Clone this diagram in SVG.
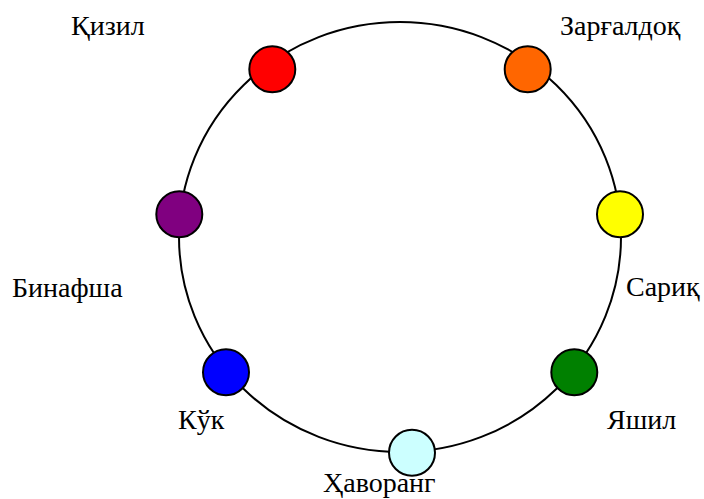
<svg xmlns="http://www.w3.org/2000/svg" width="704" height="499" viewBox="0 0 704 499">
<style>
.lbl{font-family:"Liberation Serif","Times New Roman",serif;font-size:28px;fill:#000}
.dot{stroke:#000;stroke-width:2}
.ring{fill:none;stroke:#000;stroke-width:2}
</style>
<rect width="704" height="499" fill="#fff"/>
<g id="connectors">
<ellipse class="ring" cx="400" cy="237" rx="221" ry="215"/>
</g>
<g id="qizil"><circle class="dot" cx="272.3" cy="69.3" r="23" fill="#FF0000"/><text class="lbl" x="71" y="35">Қизил</text></g>
<g id="zargaldoq"><circle class="dot" cx="527.7" cy="69.3" r="23" fill="#FF6600"/><text class="lbl" x="560" y="35">Зарғалдоқ</text></g>
<g id="sariq"><circle class="dot" cx="620" cy="214.3" r="23" fill="#FFFF00"/><text class="lbl" x="626" y="296">Сариқ</text></g>
<g id="yashil"><circle class="dot" cx="574.3" cy="372.3" r="23" fill="#008000"/><text class="lbl" x="607" y="429">Яшил</text></g>
<g id="havorang"><circle class="dot" cx="412" cy="452.7" r="23" fill="#CCFFFF"/><text class="lbl" x="323" y="492">Ҳаворанг</text></g>
<g id="kuk"><circle class="dot" cx="226" cy="372.3" r="23" fill="#0000FF"/><text class="lbl" x="178" y="429">Кўк</text></g>
<g id="binafsha"><circle class="dot" cx="179.3" cy="214.3" r="23" fill="#800080"/><text class="lbl" x="12" y="297">Бинафша</text></g>
</svg>
